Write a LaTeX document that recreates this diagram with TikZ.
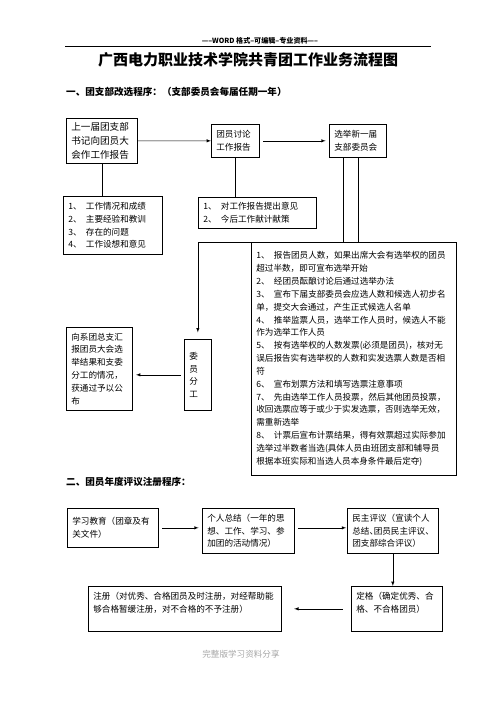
\documentclass[tikz,border=0pt]{standalone}
\usepackage{fontspec}
\setmainfont{Noto Sans CJK SC}
\usetikzlibrary{arrows,calc}
\newcommand{\itm}[1]{#1、\hspace{.5em}}

\begin{document}
\begin{tikzpicture}[x=1.2pt,y=-1.2pt,
	every node/.style={inner sep=0pt,font=\fontsize{10.3}{15.4}\selectfont},
	box/.style={draw,thick,anchor=north west,align=left,inner xsep=6pt,inner ysep=3pt},
	link/.style={thick},
	arr/.style={-latex,thick}]
	
	\useasboundingbox (0,0) rectangle (496,702);
	
	% page head and title
	\node (head) at (260,41) {\fontsize{8.5}{10}\selectfont\bfseries -----WORD 格式--可编辑--专业资料-----};
	\draw[thick] (65,46) -- (431,46);
	\node (title) at (248,60) {\fontsize{18}{22}\selectfont\bfseries 广西电力职业技术学院共青团工作业务流程图};
	
	% part one: re-election of the branch committee
	\node[anchor=west] (h1) at (66,92) {\fontsize{11.5}{14}\selectfont\bfseries 一、团支部改选程序：（支部委员会每届任期一年）};
	\node[box,text width=73.2pt,minimum height=54pt,font=\fontsize{11.5}{17}\selectfont] (rep) at (66,118) {上一届团支部\\书记向团员大\\会作工作报告};
	\node[box,text width=45.6pt,minimum height=39.6pt] (disc) at (211,124) {团员讨论\\工作报告};
	\node[box,text width=56.4pt,minimum height=39.6pt] (elect) at (329,124) {选举新一届\\支部委员会};
	\node[box,text width=106.8pt,minimum height=69.6pt] (l1) at (63,196) {\itm{1}工作情况和成绩\\\itm{2}主要经验和教训\\\itm{3}存在的问题\\\itm{4}工作设想和意见};
	\node[box,text width=129.6pt,minimum height=37.2pt] (l2) at (198,197) {\itm{1}对工作报告提出意见\\\itm{2}今后工作献计献策};
	\node[box,text width=234pt,minimum height=279.6pt] (l3) at (251,242) {%
		\itm{1}报告团员人数，如果出席大会有选举权的团员\\超过半数，即可宣布选举开始\\
		\itm{2}经团员酝酿讨论后通过选举办法\\
		\itm{3}宣布下届支部委员会应选人数和候选人初步名\\单，提交大会通过，产生正式候选人名单\\
		\itm{4}推举监票人员，选举工作人员时，候选人不能\\作为选举工作人员\\
		\itm{5}按有选举权的人数发票(必须是团员)，核对无\\误后报告实有选举权的人数和实发选票人数是否相\\符\\
		\itm{6}宣布划票方法和填写选票注意事项\\
		\itm{7}先由选举工作人员投票，然后其他团员投票，\\收回选票应等于或少于实发选票，否则选举无效，\\需重新选举\\
		\itm{8}计票后宣布计票结果，得有效票超过实际参加\\选举过半数者当选(具体人员由班团支部和辅导员\\根据本班实际和当选人员本身条件最后定夺)};
	\node[box,text width=67.2pt,minimum height=99.6pt] (note) at (66,327) {向系团总支汇\\报团员大会选\\举结果和支委\\分工的情况，\\获通过予以公\\布};
	\node[box,text width=20.4pt,minimum height=85.2pt] (fen) at (184,339) {委\\员\\分\\工};
	
	\draw[arr] (rep.east) -- (disc.west);
	\draw[arr,shorten <=4pt,shorten >=4pt] (disc.east) -- (elect.west);
	\draw[link] (rep.south) -- (rep.south |- l1.north);
	\draw[link] (disc.south) -- (disc.south |- l2.north);
	\coordinate (e1) at ($(elect.south)+(-15,0)$);
	\draw[link] (e1) -- (e1 |- l3.north);
	\draw[link] (elect.south) -- (elect.south |- l3.north);
	\draw[arr,shorten >=8pt] (l3.north west) -| (fen.north);
	\draw[arr,shorten <=4pt,shorten >=4pt] (fen.west) -- (fen.west -| note.east);
	
	% part two: yearly appraisal and registration
	\node[anchor=west] (h2) at (66,482) {\fontsize{11.5}{14}\selectfont\bfseries 二、团员年度评议注册程序：};
	\node[box,text width=97.2pt,minimum height=46.8pt] (study) at (67,508) {学习教育（团章及有\\关文件）};
	\node[box,text width=98.4pt,minimum height=54pt] (summ) at (202,508) {个人总结（一年的思\\想、工作、学习、参\\加团的活动情况）};
	\node[box,text width=97.2pt,minimum height=54pt] (eval) at (347,508) {民主评议（宣读个人\\总结、\kern-.5em团员民主评议、\kern-.5em\\团支部综合评议）};
	\node[box,text width=97.2pt,minimum height=54pt] (grade) at (351,586) {定格（确定优秀、合\\格、不合格团员）\\ \mbox{}};
	\node[box,text width=219.6pt,minimum height=54pt] (reg) at (88,586) {注册（对优秀、合格团员及时注册，对经帮助能\\够合格暂缓注册，对不合格的不予注册）\\ \mbox{}};
	
	\draw[arr,shorten <=4pt,shorten >=4pt] (study.east) -- (study.east -| summ.west);
	\draw[arr,shorten <=4pt,shorten >=1pt] (summ.east |- study.east) -- (study.east -| eval.west);
	\draw[arr] (eval.south) -- (eval.south |- grade.north);
	\draw[arr,shorten <=10pt,shorten >=15pt] (grade.west) -- (grade.west -| reg.east);
	
	\node[text=gray!70] (foot) at (241,654) {完整版学习资料分享};
	
\end{tikzpicture}
\end{document}
